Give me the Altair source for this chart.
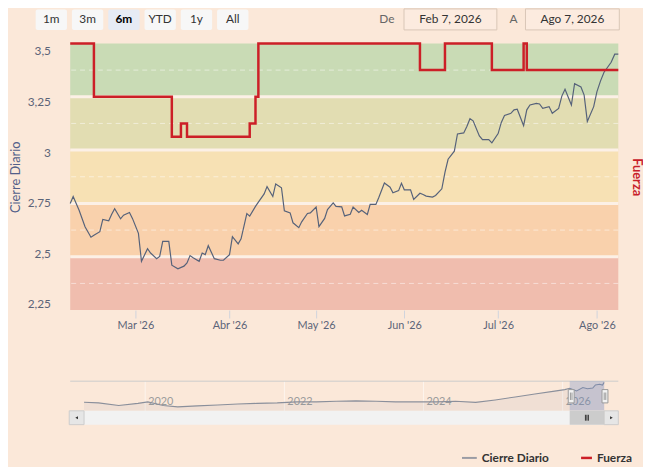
import altair as alt
import pandas as pd

BG = "#fbe8d9"
FONT = "Lato"
W, H = 555, 270

# ---------------- data ----------------
close_dates = [
    "2026-02-07", "2026-02-08", "2026-02-10", "2026-02-12", "2026-02-14", "2026-02-15",
    "2026-02-17", "2026-02-18", "2026-02-20", "2026-02-21", "2026-02-22", "2026-02-24",
    "2026-02-25", "2026-02-27", "2026-02-28", "2026-03-02", "2026-03-03", "2026-03-05",
    "2026-03-06", "2026-03-08", "2026-03-09", "2026-03-10", "2026-03-12", "2026-03-13",
    "2026-03-15", "2026-03-17", "2026-03-18", "2026-03-19", "2026-03-20", "2026-03-22",
    "2026-03-23", "2026-03-24", "2026-03-25", "2026-03-27", "2026-03-29", "2026-03-30",
    "2026-04-01", "2026-04-02", "2026-04-04", "2026-04-05", "2026-04-07", "2026-04-08",
    "2026-04-10", "2026-04-11", "2026-04-13", "2026-04-14", "2026-04-16", "2026-04-17",
    "2026-04-19", "2026-04-20", "2026-04-22", "2026-04-23", "2026-04-25", "2026-04-26",
    "2026-04-28", "2026-04-29", "2026-05-01", "2026-05-02", "2026-05-04", "2026-05-05",
    "2026-05-07", "2026-05-08", "2026-05-10", "2026-05-11", "2026-05-13", "2026-05-14",
    "2026-05-16", "2026-05-17", "2026-05-19", "2026-05-20", "2026-05-22", "2026-05-23",
    "2026-05-25", "2026-05-27", "2026-05-28", "2026-05-30", "2026-05-31", "2026-06-01",
    "2026-06-03", "2026-06-04", "2026-06-06", "2026-06-07", "2026-06-08", "2026-06-10",
    "2026-06-11", "2026-06-13", "2026-06-14", "2026-06-15", "2026-06-17", "2026-06-18",
    "2026-06-20", "2026-06-21", "2026-06-22", "2026-06-23", "2026-06-25", "2026-06-26",
    "2026-06-28", "2026-06-29", "2026-07-01", "2026-07-02", "2026-07-03", "2026-07-05",
    "2026-07-06", "2026-07-07", "2026-07-09", "2026-07-10", "2026-07-11", "2026-07-13",
    "2026-07-14", "2026-07-15", "2026-07-17", "2026-07-18", "2026-07-20", "2026-07-21",
    "2026-07-22", "2026-07-24", "2026-07-25", "2026-07-27", "2026-07-28", "2026-07-29",
    "2026-07-31", "2026-08-01", "2026-08-02", "2026-08-03", "2026-08-05", "2026-08-06",
    "2026-08-07",
]
close_values = [
    2.746, 2.781, 2.713, 2.632, 2.580, 2.590,
    2.607, 2.668, 2.661, 2.693, 2.721, 2.671,
    2.689, 2.702, 2.673, 2.599, 2.461, 2.523,
    2.502, 2.474, 2.485, 2.559, 2.559, 2.442,
    2.424, 2.437, 2.453, 2.489, 2.478, 2.461,
    2.502, 2.494, 2.538, 2.474, 2.466, 2.466,
    2.494, 2.583, 2.547, 2.572, 2.697, 2.684,
    2.732, 2.753, 2.794, 2.830, 2.781, 2.843,
    2.824, 2.710, 2.700, 2.651, 2.627, 2.656,
    2.697, 2.700, 2.729, 2.632, 2.673, 2.716,
    2.749, 2.732, 2.730, 2.685, 2.693, 2.729,
    2.702, 2.713, 2.692, 2.742, 2.742, 2.775,
    2.848, 2.827, 2.799, 2.810, 2.846, 2.814,
    2.814, 2.767, 2.797, 2.791, 2.783, 2.778,
    2.786, 2.819, 2.900, 2.965, 3.005, 3.090,
    3.095, 3.127, 3.165, 3.155, 3.080, 3.062,
    3.062, 3.046, 3.092, 3.147, 3.181, 3.192,
    3.209, 3.212, 3.131, 3.209, 3.233, 3.241,
    3.238, 3.216, 3.225, 3.192, 3.216, 3.277,
    3.311, 3.233, 3.338, 3.322, 3.282, 3.152,
    3.225, 3.298, 3.351, 3.395, 3.444, 3.484,
    3.484,
]

fuerza_dates = ["2026-02-07", "2026-02-15", "2026-03-13", "2026-03-16", "2026-03-18",
                "2026-04-08", "2026-04-10", "2026-04-11", "2026-06-06", "2026-06-14",
                "2026-06-29", "2026-07-09", "2026-07-10", "2026-08-07"]
fuerza_values = [5, 4, 3.25, 3.5, 3.25, 3.5, 4, 5, 4.5, 5, 4.5, 5, 4.5, 4.5]

band_low = [0, 1, 2, 3, 4]
band_high = [1, 2, 3, 4, 5]
band_colors = ["#f0bdae", "#f9d1ac", "#f7e1b4", "#e2ddb2", "#c9dbb5"]
band_edges = [1, 2, 3, 4]
band_mids = [0.5, 1.5, 2.5, 3.5, 4.5]

nav_dates = ["2019-02-14", "2019-05-01", "2019-08-15", "2019-11-24", "2020-01-15",
             "2020-04-05", "2020-06-20", "2020-10-01", "2021-01-15", "2021-05-01",
             "2021-08-10", "2021-11-24", "2022-03-07", "2022-06-18", "2022-10-01",
             "2023-01-12", "2023-04-27", "2023-08-08", "2023-11-20", "2024-03-07",
             "2024-06-18", "2024-10-01", "2025-01-12", "2025-04-27", "2025-08-08",
             "2025-11-20", "2026-01-12", "2026-02-07", "2026-03-15", "2026-04-17",
             "2026-05-11", "2026-06-08", "2026-06-22", "2026-07-14", "2026-07-29",
             "2026-08-07"]
nav_values = [1.05, 0.97, 0.66, 0.91, 1.09, 0.66, 0.48, 0.60, 0.72, 0.84,
              0.91, 0.97, 1.09, 1.09, 1.17, 1.21, 1.17, 1.09, 1.09, 1.09,
              1.17, 1.03, 1.33, 1.69, 2.05, 2.41, 2.59, 2.75, 2.42, 2.84,
              2.69, 2.78, 3.16, 3.24, 3.15, 3.48]
nav_year_dates = ["2020-01-01", "2022-01-01", "2024-01-01", "2026-01-01"]
nav_year_labels = ["2020", "2022", "2024", "2026"]
window_start, window_end = "2026-02-07", "2026-08-07"

month_ticks = ["2026-03-01", "2026-04-01", "2026-05-01", "2026-06-01", "2026-07-01", "2026-08-01"]
close_ticks = [2.25, 2.5, 2.75, 3, 3.25, 3.5]

buttons = ["1m", "3m", "6m", "YTD", "1y", "All"]
selected = "6m"


def ms(s):
    return int(pd.Timestamp(s, tz="UTC").value // 10**6)


def dt(s):
    y, m, d = map(int, s.split("-"))
    return alt.DateTime(year=y, month=m, date=d, utc=True)


# ordinal-like main time axis (trading days): piecewise linear scale on time in ms
anchor_dates = ["2026-02-07", "2026-03-01", "2026-04-01", "2026-05-01", "2026-06-01",
                "2026-07-01", "2026-08-01", "2026-08-07"]
anchor_px = [0, 66, 161.3, 249, 338.3, 433.3, 533.3, 555]
main_scale = alt.Scale(type="linear", domain=[ms(s) for s in anchor_dates],
                       range=anchor_px, nice=False, zero=False)


def main_x(field, axis=None):
    return alt.X(field, type="quantitative", scale=main_scale, axis=axis)


def nav_x(field):
    return alt.X(field, type="temporal",
                 scale=alt.Scale(type="utc", domain=[dt("2019-02-14"), dt("2026-08-07")],
                                 range=[14, 540.7], nice=False),
                 axis=None)


fuerza_scale = alt.Scale(domain=[0, 5], nice=False, zero=False)

close_df = pd.DataFrame({"date": close_dates, "close": close_values})
fuerza_df = pd.DataFrame({"date": fuerza_dates, "fuerza": fuerza_values})
bands_df = pd.DataFrame({"lo": band_low, "hi": band_high, "color": band_colors})
edges_df = pd.DataFrame({"v": band_edges})
mids_df = pd.DataFrame({"v": band_mids})
nav_df = pd.DataFrame({"date": nav_dates, "v": nav_values})
years_df = pd.DataFrame({"date": nav_year_dates, "label": nav_year_labels})
window_df = pd.DataFrame({"start": [window_start], "end": [window_end]})
one = pd.DataFrame({"k": [0]})

layers = []

# plot bands
layers.append(alt.Chart(bands_df).mark_rect().encode(
    y=alt.Y("lo:Q", scale=fuerza_scale, axis=None), y2="hi:Q",
    color=alt.Color("color:N", scale=None)))
layers.append(alt.Chart(edges_df).mark_rule(color="#fcf0e6", strokeWidth=3).encode(
    y=alt.Y("v:Q", scale=fuerza_scale, axis=None)))
layers.append(alt.Chart(mids_df).mark_rule(color="#ffffff", opacity=0.5, strokeWidth=1,
                                           strokeDash=[5, 4]).encode(
    y=alt.Y("v:Q", scale=fuerza_scale, axis=None)))

# price line
x_axis = alt.Axis(values=[ms(s) for s in month_ticks], orient="bottom",
                  labelExpr="['Ene','Feb','Mar','Abr','May','Jun','Jul','Ago','Sep','Oct','Nov','Dic'][utcmonth(datum.value)] + \" '\" + utcFormat(datum.value, '%y')",
                  tickSize=8, tickColor="#cfd3dc", labelPadding=2, labelColor="#5b6478",
                  labelFontSize=11, labelFont=FONT, domain=False, grid=False, title=None,
                  labelFlush=False, labelOverlap=False)
y_axis = alt.Axis(orient="left", values=close_ticks,
                  labelExpr="replace(toString(datum.value), '.', ',')",
                  ticks=False, tickSize=0, domain=False, grid=False, labelPadding=20,
                  labelFontSize=12, labelFont=FONT, labelColor="#5b6478",
                  labelFlush=False, labelOverlap=False,
                  title="Cierre Diario", titleX=-55, titleY=135, titleAngle=270,
                  titleAlign="center", titleBaseline="middle", titleFontSize=13,
                  titleFont=FONT, titleFontWeight="normal", titleColor="#52608a")
layers.append(alt.Chart(close_df).transform_calculate(
    t="time(toDate(datum.date))"
).mark_line(color="#56627a", strokeWidth=1.2).encode(
    x=main_x("t", x_axis),
    y=alt.Y("close:Q", scale=alt.Scale(domain=[2.22, 3.537], zero=False, nice=False),
            axis=y_axis)))

# Fuerza step line
f_axis = alt.Axis(orient="right", labels=False, ticks=False, domain=False, grid=False,
                  title="Fuerza", titleAngle=90, titleX=18, titleY=135, titleAlign="center",
                  titleBaseline="middle", titleColor="#c8202a", titleFontSize=13,
                  titleFont=FONT, titleFontWeight="bold")
layers.append(alt.Chart(fuerza_df).transform_calculate(
    t="time(toDate(datum.date))"
).mark_line(color="#cc1f27", strokeWidth=2.5, interpolate="step-after").encode(
    x=main_x("t"),
    y=alt.Y("fuerza:Q", scale=fuerza_scale, axis=f_axis)))

# ---------------- navigator ----------------
nav_y = alt.Y("v:Q", scale=alt.Scale(domain=[0, 3.5], range=[372, 343], nice=False, zero=False),
              axis=None)
layers.append(alt.Chart(years_df).mark_rule(color="#ffffff", opacity=0.55).encode(
    x=nav_x("date"), y=alt.value(342), y2=alt.value(372)))
layers.append(alt.Chart(years_df).mark_text(align="left", baseline="middle", dx=3, fontSize=11,
                                            font=FONT, color="#9c9c9c").encode(
    x=nav_x("date"), y=alt.value(363), text="label:N"))
layers.append(alt.Chart(nav_df).mark_area(color="#6f7d99", opacity=0.08).encode(
    x=nav_x("date"), y=nav_y))
layers.append(alt.Chart(nav_df).mark_line(color="#8a8f9b", strokeWidth=1.1).encode(
    x=nav_x("date"), y=nav_y))
layers.append(alt.Chart(one).mark_rule(color="#cccccc").encode(
    x=alt.value(0), x2=alt.value(W), y=alt.value(342)))
layers.append(alt.Chart(window_df).mark_rect(color="#6685c2", opacity=0.3).encode(
    x=nav_x("start"), x2="end", y=alt.value(342), y2=alt.value(372)))

# scrollbar
layers.append(alt.Chart(one).mark_rect(color="#f2f2f2").encode(
    x=alt.value(14), x2=alt.value(540.7), y=alt.value(372), y2=alt.value(386)))
layers.append(alt.Chart(window_df).mark_rect(color="#cccccc").encode(
    x=nav_x("start"), x2="end", y=alt.value(372), y2=alt.value(386)))
for xa, xb, shape, xc in [(-1, 14, "triangle-left", 6.5), (540.7, 555, "triangle-right", 548)]:
    layers.append(alt.Chart(one).mark_rect(color="#e6e6e6", stroke="#cccccc", strokeWidth=1).encode(
        x=alt.value(xa), x2=alt.value(xb), y=alt.value(372), y2=alt.value(386)))
    layers.append(alt.Chart(one).mark_point(shape=shape, filled=True, size=10, color="#333333",
                                            opacity=1).encode(
        x=alt.value(xc), y=alt.value(379)))
for xr in [521.7, 523.2, 524.7]:
    layers.append(alt.Chart(one).mark_rule(color="#333333", strokeWidth=1).encode(
        x=alt.value(xr), y=alt.value(376), y2=alt.value(382)))

# navigator handles
for xa in [504.3, 538.5]:
    layers.append(alt.Chart(one).mark_rect(color="#f2f2f2", stroke="#999999", strokeWidth=1).encode(
        x=alt.value(xa), x2=alt.value(xa + 6), y=alt.value(350.5), y2=alt.value(364)))
    for xr in [xa + 2.2, xa + 3.8]:
        layers.append(alt.Chart(one).mark_rule(color="#999999", strokeWidth=1).encode(
            x=alt.value(xr), y=alt.value(353.5), y2=alt.value(361)))

# ---------------- legend ----------------
layers.append(alt.Chart(one).mark_rule(color="#9a9ca4", strokeWidth=2).encode(
    x=alt.value(396.7), x2=alt.value(411.7), y=alt.value(419.7)))
layers.append(alt.Chart(one).mark_text(text="Cierre Diario", align="left", baseline="middle",
                                       fontSize=12, fontWeight="bold", font=FONT,
                                       color="#333333").encode(
    x=alt.value(416.7), y=alt.value(419.7)))
layers.append(alt.Chart(one).mark_rule(color="#cc1f27", strokeWidth=2.5).encode(
    x=alt.value(517.3), x2=alt.value(528.3), y=alt.value(419.7)))
layers.append(alt.Chart(one).mark_text(text="Fuerza", align="left", baseline="middle",
                                       fontSize=12, fontWeight="bold", font=FONT,
                                       color="#333333").encode(
    x=alt.value(533.3), y=alt.value(419.7)))

# ---------------- range selector buttons ----------------
for i, b in enumerate(buttons):
    x0 = -35 + i * 36.75
    x1 = x0 + 31.7
    sel = b == selected
    layers.append(alt.Chart(one).mark_rect(color="#e6ebf5" if sel else "#f7f7f7",
                                           cornerRadius=2).encode(
        x=alt.value(x0), x2=alt.value(x1), y=alt.value(-34.3), y2=alt.value(-13.7)))
    layers.append(alt.Chart(one).mark_text(text=b, align="center", baseline="middle",
                                           fontSize=12, font=FONT,
                                           fontWeight="bold" if sel else "normal",
                                           color="#000000" if sel else "#333333").encode(
        x=alt.value((x0 + x1) / 2), y=alt.value(-24.3)))

# date inputs
for lab, lx, val, bx0, bx1 in [("De", 320.7, "Feb 7, 2026", 338, 432),
                               ("A", 449, "Ago 7, 2026", 461, 556)]:
    layers.append(alt.Chart(one).mark_text(text=lab, align="center", baseline="middle",
                                           fontSize=12, font=FONT, color="#666666").encode(
        x=alt.value(lx), y=alt.value(-24.3)))
    layers.append(alt.Chart(one).mark_rect(fill="#fcebdf", stroke="#d8c6b6", strokeWidth=1).encode(
        x=alt.value(bx0), x2=alt.value(bx1), y=alt.value(-35), y2=alt.value(-13.7)))
    layers.append(alt.Chart(one).mark_text(text=val, align="center", baseline="middle",
                                           fontSize=12, font=FONT, color="#333333").encode(
        x=alt.value((bx0 + bx1) / 2), y=alt.value(-24.3)))

chart = alt.layer(*layers).resolve_scale(
    x="independent", y="independent"
).properties(
    width=W, height=H,
    autosize=alt.AutoSizeParams(type="none"),
    padding={"left": 63, "top": 33, "right": 25, "bottom": 156},
).configure(
    background=BG, font=FONT
).configure_view(stroke=None)

chart.save("out.html", embed_options={"renderer": "svg", "actions": False})
